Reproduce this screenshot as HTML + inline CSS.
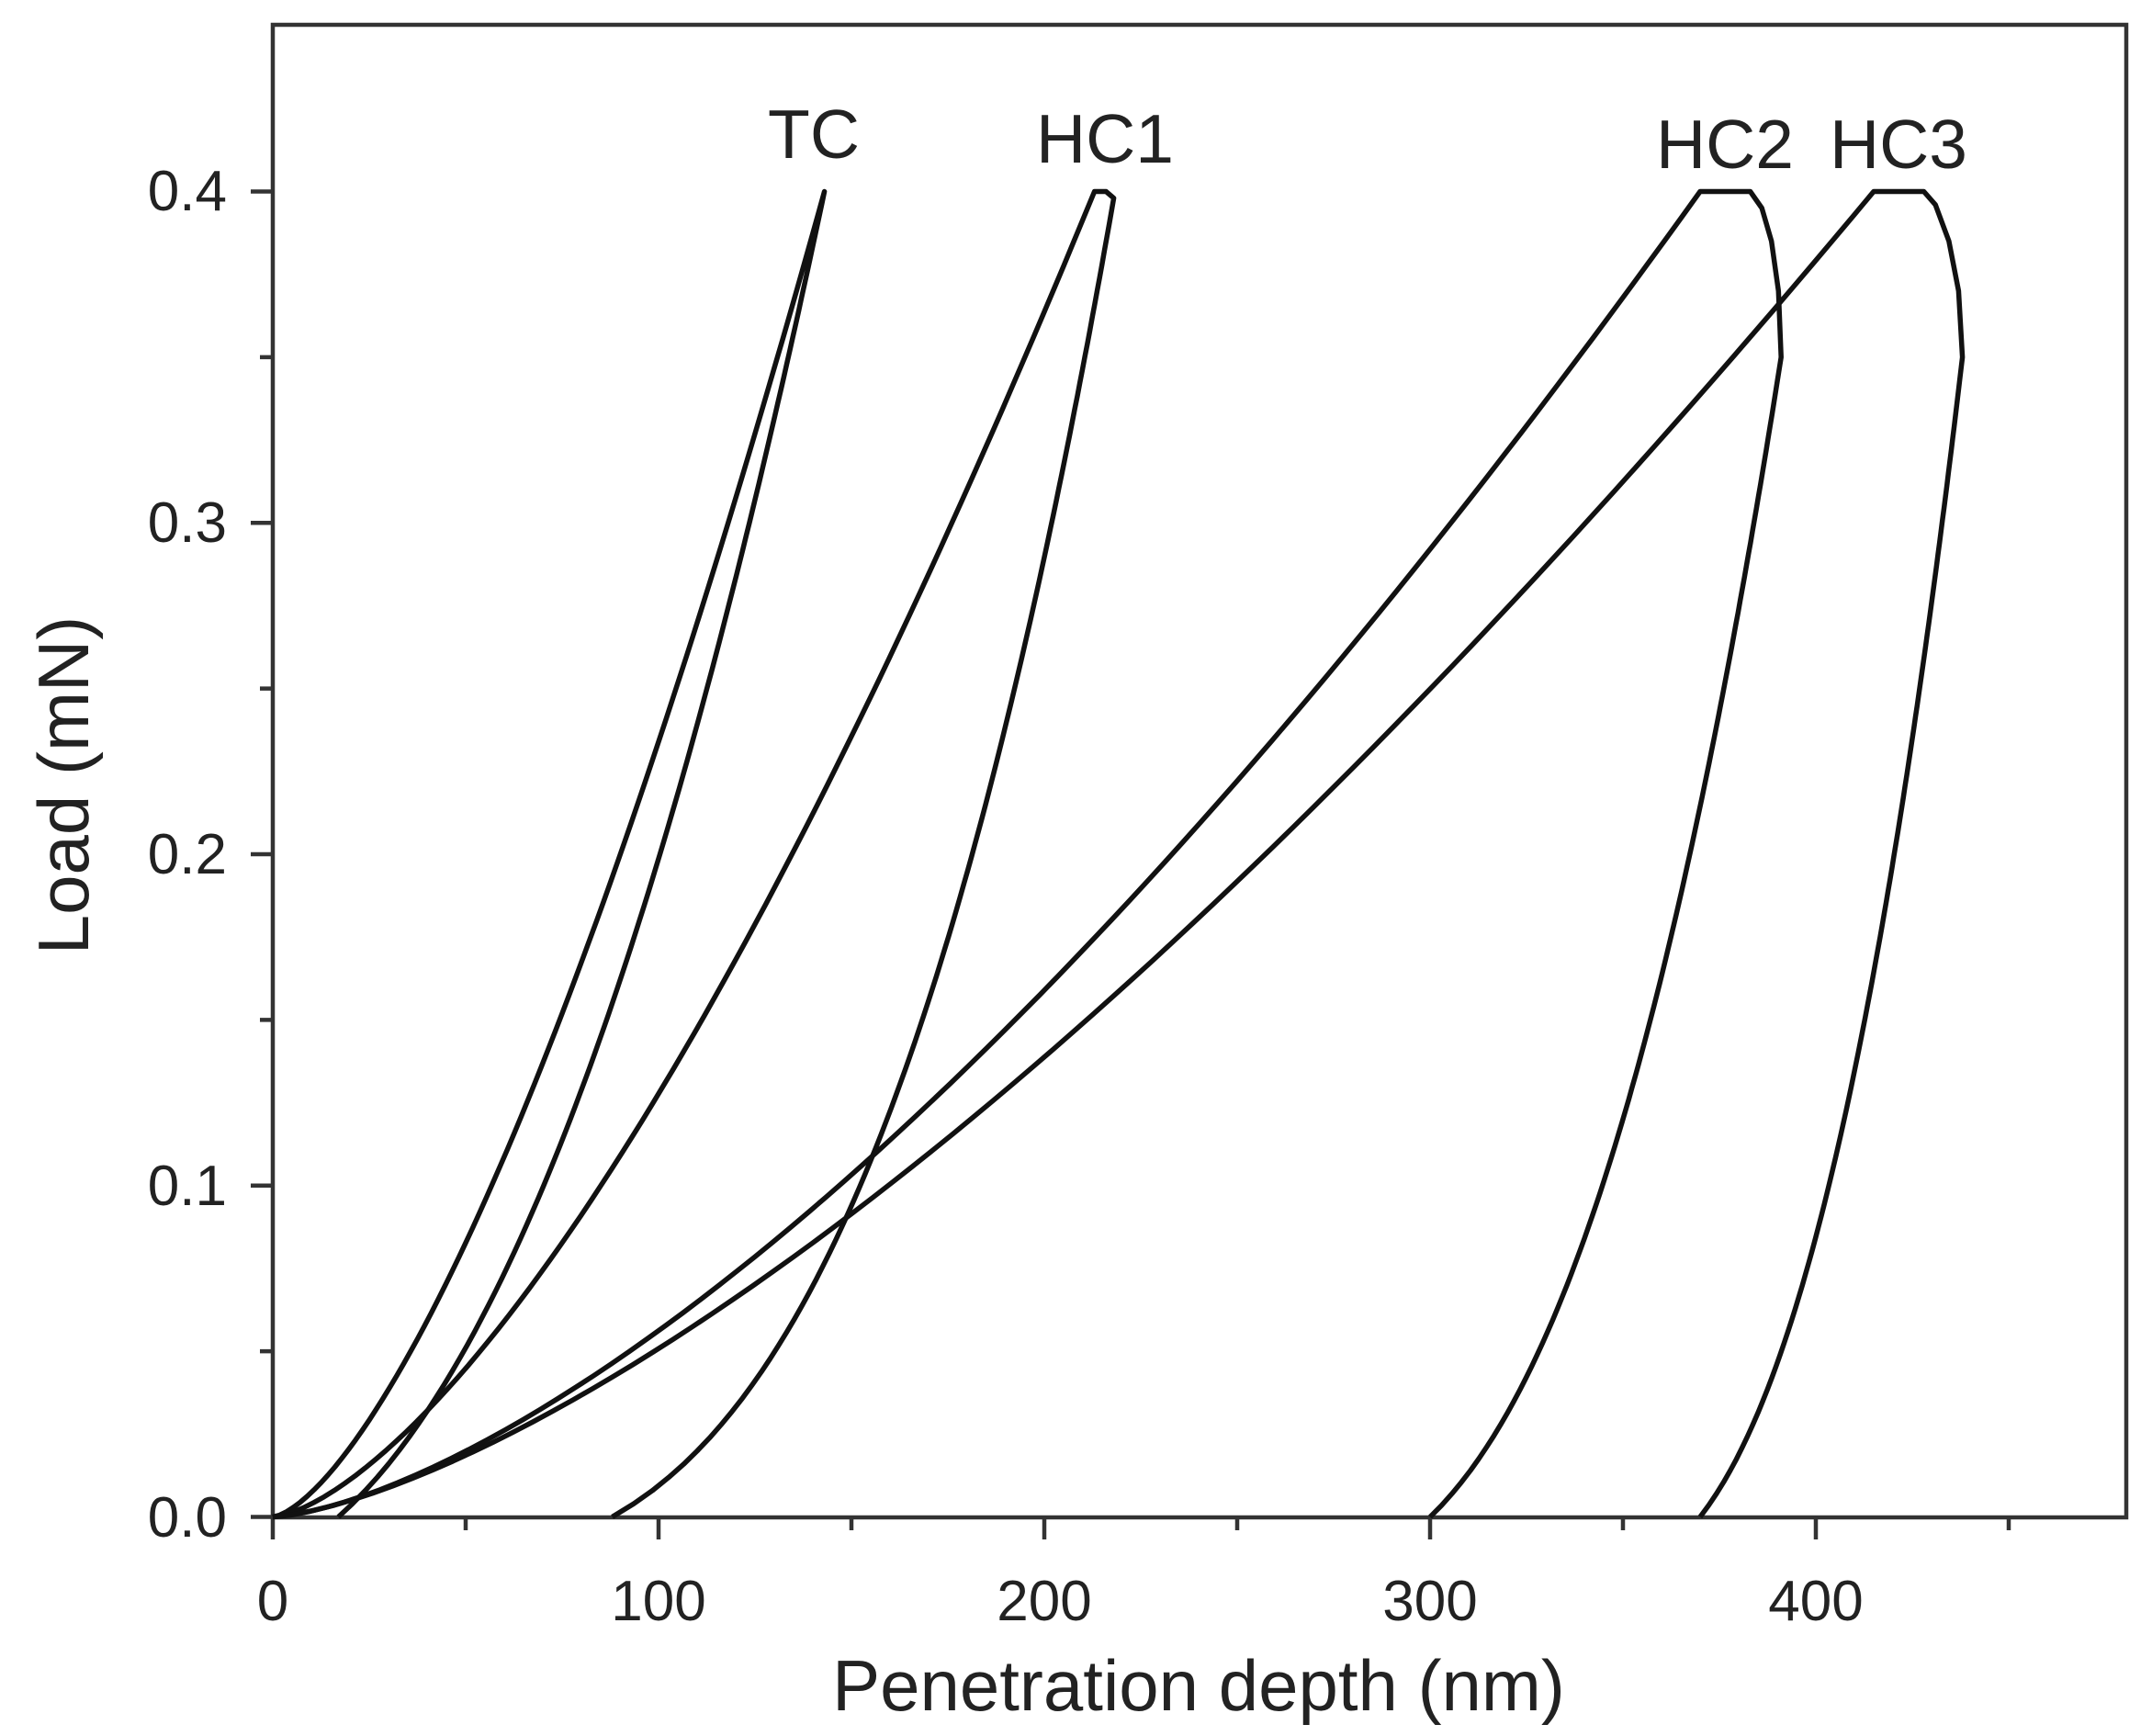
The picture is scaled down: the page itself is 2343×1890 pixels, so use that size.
<!DOCTYPE html>
<html><head><meta charset="utf-8"><style>
html,body{margin:0;padding:0;background:#fff}
svg{display:block}
text{font-family:"Liberation Sans",Arial,sans-serif;fill:#222}
</style></head><body>
<svg id="s" width="2343" height="1890" viewBox="0 0 2343 1890" xmlns="http://www.w3.org/2000/svg">
<rect x="297" y="27" width="2018" height="1625" fill="none" stroke="#333" stroke-width="4.5"/>
<g id="ticks" stroke="#333" stroke-width="4.5"></g>
<g font-size="62" text-anchor="middle">
<text x="297" y="1764">0</text><text x="717" y="1764">100</text><text x="1137" y="1764">200</text><text x="1557" y="1764">300</text><text x="1977" y="1764">400</text>
</g>
<g font-size="62" text-anchor="end">
<text x="247" y="1673">0.0</text><text x="247" y="1312">0.1</text><text x="247" y="951">0.2</text><text x="247" y="590">0.3</text><text x="247" y="229">0.4</text>
</g>
<text x="1305" y="1862" font-size="78" text-anchor="middle">Penetration depth (nm)</text>
<text transform="translate(96,855) rotate(-90)" font-size="78" text-anchor="middle">Load (mN)</text>
<g font-size="75" text-anchor="middle">
<text x="886" y="172">TC</text><text x="1203" y="177">HC1</text><text x="1878" y="183">HC2</text><text x="2067" y="183">HC3</text>
</g>
<g id="curves" fill="none" stroke="#111" stroke-width="5.5" stroke-linejoin="round"></g>
</svg>
<script>
var X=function(h){return 297+h*4.2},Y=function(p){return 1651.5-p*3607.5};
var t=document.getElementById('ticks'),s='';
for(var i=0;i<=9;i++){var x=X(i*50);s+='<line x1="'+x+'" y1="1652" x2="'+x+'" y2="'+(i%2?1666:1676)+'"/>';}
for(var i=0;i<=8;i++){var y=Y(i*0.05);s+='<line x1="297" y1="'+y+'" x2="'+(i%2?283:273)+'" y2="'+y+'"/>';}
t.innerHTML=s;
function path(pts){return '<path d="M'+pts.map(function(q){return X(q[0]).toFixed(1)+','+Y(q[1]).toFixed(1)}).join(' L')+'"/>';}
function load(hm,m){var a=[];for(var i=0;i<=80;i++){var f=i/80;a.push([hm*f,0.4*Math.pow(f,m)]);}return a;}
function unl(hf,A,k,p0,pTop){var g=function(p){return Math.pow(p+p0,k)-Math.pow(p0,k)};var G=g(pTop),a=[];
for(var i=0;i<=100;i++){var p=pTop*i/100;a.push([hf+A*g(p)/G,p]);}return a;}
var c='';
c+=path(load(143,1.5).concat(unl(17,126,0.45,0.02,0.4).reverse()));
var l1=load(213,1.51);l1.push([216,0.4],[218,0.398]);
c+=path(l1.concat(unl(88,130,0.3,0.015,0.398).reverse()));
var l2=load(370,1.5);l2.push([374,0.4],[383,0.4],[386,0.395],[388.5,0.385],[390.3,0.37]);
c+=path(l2.concat(unl(300,91,0.35,0.02,0.35).reverse()));
var l3=load(415,1.45);l3.push([419,0.4],[428,0.4],[431,0.396],[434.5,0.385],[437,0.37]);
c+=path(l3.concat(unl(370,68,0.35,0.02,0.35).reverse()));
document.getElementById('curves').innerHTML=c;
</script>
</body></html>
